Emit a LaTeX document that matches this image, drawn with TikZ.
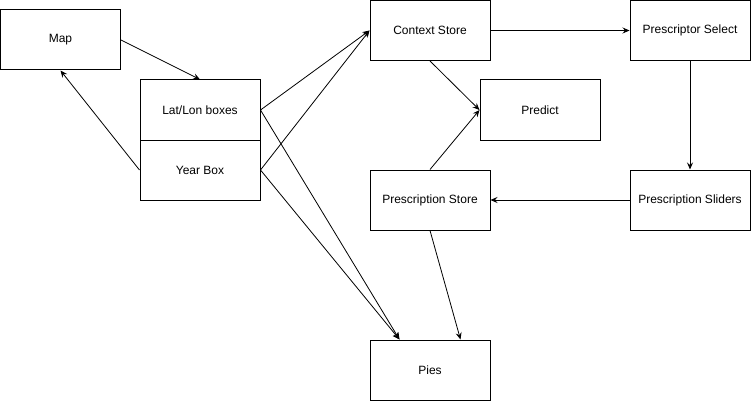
\documentclass[tikz,border=0pt]{standalone}
\usepackage{fontspec}
\setmainfont{Liberation Sans}
\usetikzlibrary{arrows.meta}
\begin{document}
\begin{tikzpicture}[x=1pt,y=-1pt,
  box/.style={draw,line width=1pt,minimum width=120pt,minimum height=60pt,inner sep=0pt,font=\fontsize{12}{14}\selectfont},
  arr/.style={draw,line width=0.8pt,-{Stealth[length=7pt,width=6pt,inset=2.5pt]}}]
\useasboundingbox (0,0) rectangle (751,401);
\node[box] (map) at (60.5,40) {Map};
\node[box] (lat) at (200,110) {Lat/Lon boxes};
\node[box] (year) at (200,170) {Year Box};
\node[box] (ctx) at (430,30.5) {Context Store};
\node[box] (pred) at (540,110) {Predict};
\node[box] (psel) at (690,30.5) {Prescriptor Select};
\node[box] (pstore) at (430,200) {Prescription Store};
\node[box] (psl) at (690,200) {Prescription Sliders};
\node[box] (pies) at (430,370) {Pies};
\draw[arr] (map.east) -- (lat.north);
\draw[arr] (year.west) -- (map.south);
\draw[arr] (lat.east) -- (ctx.west);
\draw[arr] (year.east) -- (ctx.west);
\draw[arr] (lat.east) -- (pies.135);
\draw[arr] (year.east) -- (pies.135);
\draw[arr] (ctx.east) -- (psel.west);
\draw[arr] (ctx.south) -- (pred.west);
\draw[arr] (pstore.north) -- (pred.west);
\draw[arr] (psel.south) -- (psl.north);
\draw[arr] (psl.west) -- (pstore.east);
\draw[arr] (pstore.south) -- (pies.45);
\end{tikzpicture}
\end{document}
